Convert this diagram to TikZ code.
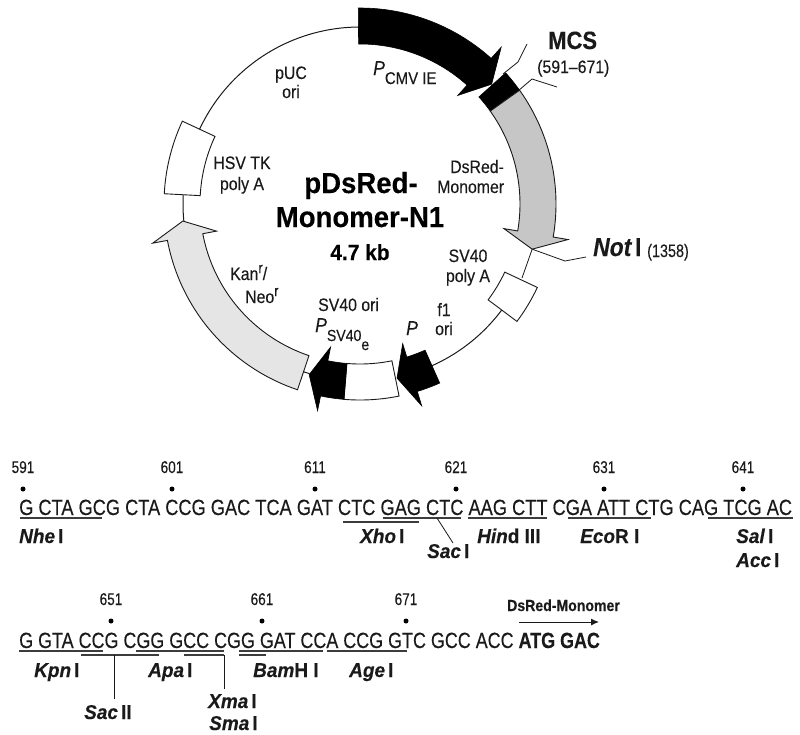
\documentclass[tikz,border=0pt]{standalone}
\usepackage{fontspec}
\usetikzlibrary{arrows.meta}
\newfontfamily\lab[FakeStretch=.88,FakeBold=.2]{Liberation Sans}
\newfontfamily\enzf[FakeStretch=.95,FakeBold=.2]{Liberation Sans}
\newfontfamily\titf[FakeStretch=.95,FakeBold=.2]{Liberation Sans}
\newfontfamily\seqf[FakeStretch=.828,FakeBold=.2]{Liberation Sans}
\newfontfamily\seqg[FakeStretch=.815,FakeBold=.2]{Liberation Sans}
\newfontfamily\numf[FakeStretch=.8,FakeBold=.1]{Liberation Sans}
\newcommand{\fs}[1]{\fontsize{#1}{#1}\selectfont}
\newcommand{\enz}[2]{\textbf{\textit{#1}}\kern3pt\textbf{#2}}
\newcommand{\enzc}[2]{\textbf{\textit{#1}}\textbf{#2}}
\newcommand{\plasarrow}[4]{\path[#4] (#1:160) -- plot[domain=#1:#2,samples=40,variable=\t] ({\t}:160) -- (#2:146) -- (#3:178) -- (#2:211) -- (#2:196) -- plot[domain=#2:#1,samples=40,variable=\t] ({\t}:196) -- cycle;}
\newcommand{\ringbox}[3]{\path[#3] (#1:160) -- plot[domain=#1:#2,samples=20,variable=\t] ({\t}:160) -- (#2:196) -- plot[domain=#2:#1,samples=20,variable=\t] ({\t}:196) -- cycle;}
\newcommand{\backarc}[2]{\draw[backbone] plot[domain=#1:#2,samples=40,variable=\t] ({\t}:177);}
\definecolor{ink}{HTML}{1A1A1A}
\tikzset{
  x=1pt,y=-1pt,
  lbl/.style={inner sep=0pt,anchor=base west,text=ink,font=\lab\fs{18}},
  clbl/.style={lbl,anchor=base},
  num/.style={inner sep=0pt,anchor=base,text=ink,font=\numf\fs{17}},
  enzl/.style={lbl,font=\enzf\fs{20}},
  seq/.style={inner sep=0pt,anchor=base west,text=ink,font=\seqf\fs{22}},
  titl/.style={inner sep=0pt,anchor=base,text=black,font=\titf\bfseries\fs{29}},
  backbone/.style={draw=ink,line width=1pt},
  leader/.style={draw=ink,line width=.8pt},
  ul/.style={draw=ink!85,line width=1.1pt},
  dot/.style={circle,fill=black,inner sep=0pt,minimum size=5pt},
  blackpart/.style={fill=black,draw=black,line width=.6pt},
  greypart/.style={fill=#1,draw=ink,line width=.9pt},
}
\begin{document}
\begin{tikzpicture}
\useasboundingbox (0,0) rectangle (800,734);
\fill[white] (0,0) rectangle (800,734);
\begin{scope}[shift={(360,204)}]
  % backbone
  \backarc{205}{270}
  \backarc{174.5}{183}
  \backarc{36.8}{66}
  \backarc{106.6}{108.6}
  % features
  \plasarrow{-90.5}{-48}{-42.3}{blackpart}
  \ringbox{-42}{-35.5}{blackpart}
  \plasarrow{-35.5}{9.7}{14.7}{greypart=gray!45}
  \ringbox{25.2}{36.8}{greypart=white}
  \plasarrow{66}{73}{78}{blackpart}
  \ringbox{78.5}{94.7}{greypart=white}
  \plasarrow{94.7}{101.6}{106.6}{blackpart}
  \plasarrow{108.6}{169.3}{174.5}{greypart=gray!20}
  \ringbox{183}{205}{greypart=white}
  \coordinate (redtip) at (14.7:178);
\end{scope}
% leaders
\coordinate (mcsA0) at (503,74); \coordinate (mcsA1) at (518,62); \coordinate (mcsA2) at (527,44);
\coordinate (mcsB0) at (518,91); \coordinate (mcsB1) at (532,79); \coordinate (mcsB2) at (557,87);
\coordinate (notA) at (565,261); \coordinate (notB) at (586,257);
\coordinate (sv40top) at (522,278);
\draw[leader] (mcsA0) -- (mcsA1) -- (mcsA2);
\draw[leader] (mcsB0) -- (mcsB1) -- (mcsB2);
\draw[leader] (redtip) -- (notA) -- (notB);
\draw[leader] (redtip) -- (sv40top);
% map labels
\node[lbl,font=\lab\bfseries\fs{25}] (mcs) at (548,49) {MCS};
\node[lbl,font=\lab\fs{18}] (mcsr) at (537,73) {(591–671)};
\node[lbl,font=\lab\bfseries\fs{26}] (noti) at (593,256) {\textit{Not}\kern3pt I};
\node[lbl,font=\numf\fs{18}] (notr) at (647,257) {(1358)};
\node[titl] (t1) at (361,193) {pDsRed-};
\node[titl] (t2) at (360,227) {Monomer-N1};
\node[titl,font=\titf\bfseries\fs{22}] (t3) at (360,260) {4.7 kb};
\node[clbl] (puc) at (291,79) {pUC};
\node[clbl] (ori1) at (291,98) {ori};
\node[lbl] (pcmv) at (373,75) {\fs{20}\textit{P}\raisebox{-9pt}{\fs{17}CMV IE}};
\node[clbl] (hsv1) at (242,169) {HSV TK};
\node[clbl] (hsv2) at (242,190) {poly A};
\node[lbl] (ds1) at (450,173) {DsRed-};
\node[lbl] (ds2) at (437,193) {Monomer};
\node[clbl] (sv1) at (468,262) {SV40};
\node[clbl] (sv2) at (468,282) {poly A};
\node[clbl] (f1) at (444,316) {f1};
\node[clbl] (ori2) at (444,335) {ori};
\node[lbl,font=\lab\itshape\fs{20}] (pp) at (406,335) {P};
\node[lbl] (svo) at (318,311) {SV40 ori};
\node[lbl] (psv) at (315,332) {\fs{20}\textit{P}\raisebox{-9pt}{\fs{16}SV40\raisebox{-9pt}{e}}};
\node[lbl] (kan) at (230,280) {Kan\raisebox{7pt}{\fs{15}r}/};
\node[lbl] (neo) at (245,303) {Neo\raisebox{7pt}{\fs{15}r}};
% sequence row 1
\node[seq] (row1) at (19,515) {G CTA GCG CTA CCG GAC TCA GAT CTC GAG CTC AAG CTT CGA ATT CTG CAG TCG AC};
\foreach \x/\n [count=\i] in {23/591,172/601,315/611,456/621,604/631,743/641}{
  \node[num] (na\i) at (\x,473) {\n};
  \node[dot] (da\i) at (\x,489) {};
}
\draw[ul] (20,518) -- (102,518);
\draw[ul] (343,522) -- (419,522);
\draw[ul] (383,518) -- (461,518);
\draw[ul] (468,518) -- (547,518);
\draw[ul] (568,518) -- (651,518);
\draw[ul] (708,518) -- (793,518);
\coordinate (sacA) at (437,518); \coordinate (sacB) at (453,543);
\draw[leader] (sacA) -- (sacB);
\node[enzl] (nhe) at (19,543) {\enz{Nhe}{I}};
\node[enzl] (xho) at (360,543) {\enz{Xho}{I}};
\node[enzl] (sac) at (427,558) {\enz{Sac}{I}};
\node[enzl] (hin) at (477,543) {\enzc{Hin}{d III}};
\node[enzl] (eco) at (580,543) {\enzc{Eco}{R I}};
\node[enzl] (sal) at (736,543) {\enz{Sal}{I}};
\node[enzl] (acc) at (736,567) {\enz{Acc}{I}};
% sequence row 2
\node[seq,font=\seqg\fs{22}] (row2) at (19,648) {G GTA CCG CGG GCC CGG GAT CCA CCG GTC GCC ACC \textbf{ATG GAC}};
\foreach \x/\n [count=\i] in {111/651,262/661,406/671}{
  \node[num] (nb\i) at (\x,605) {\n};
  \node[dot] (db\i) at (\x,621) {};
}
\draw[ul] (19,651) -- (103,651);
\draw[ul] (136,651) -- (224,651);
\draw[ul] (239,651) -- (323,651);
\draw[ul] (327,651) -- (407,651);
\draw[ul] (81,655) -- (159,655);
\draw[ul] (184,655) -- (224,655);
\draw[ul] (239,655) -- (266,655);
\coordinate (s2A) at (114,655); \coordinate (s2B) at (114,699);
\coordinate (xmA) at (224,655); \coordinate (xmB) at (224,689);
\draw[leader] (s2A) -- (s2B);
\draw[leader] (xmA) -- (xmB);
\node[enzl] (kpn) at (34,677) {\enz{Kpn}{I}};
\node[enzl] (apa) at (148,677) {\enz{Apa}{I}};
\node[enzl] (bam) at (253,677) {\enzc{Bam}{H I}};
\node[enzl] (age) at (349,677) {\enz{Age}{I}};
\node[enzl] (sc2) at (84,719) {\enz{Sac}{II}};
\node[enzl] (xma) at (208,708) {\enz{Xma}{I}};
\node[enzl] (sma) at (209,730) {\enz{Sma}{I}};
\node[lbl,font=\lab\bfseries\fs{16}] (dsm) at (507,611) {DsRed-Monomer};
\coordinate (arA) at (519,622); \coordinate (arB) at (599,622);
\draw[draw=ink,line width=1pt,-{Latex[length=8pt,width=7pt]}] (arA) -- (arB);
\end{tikzpicture}
\end{document}
